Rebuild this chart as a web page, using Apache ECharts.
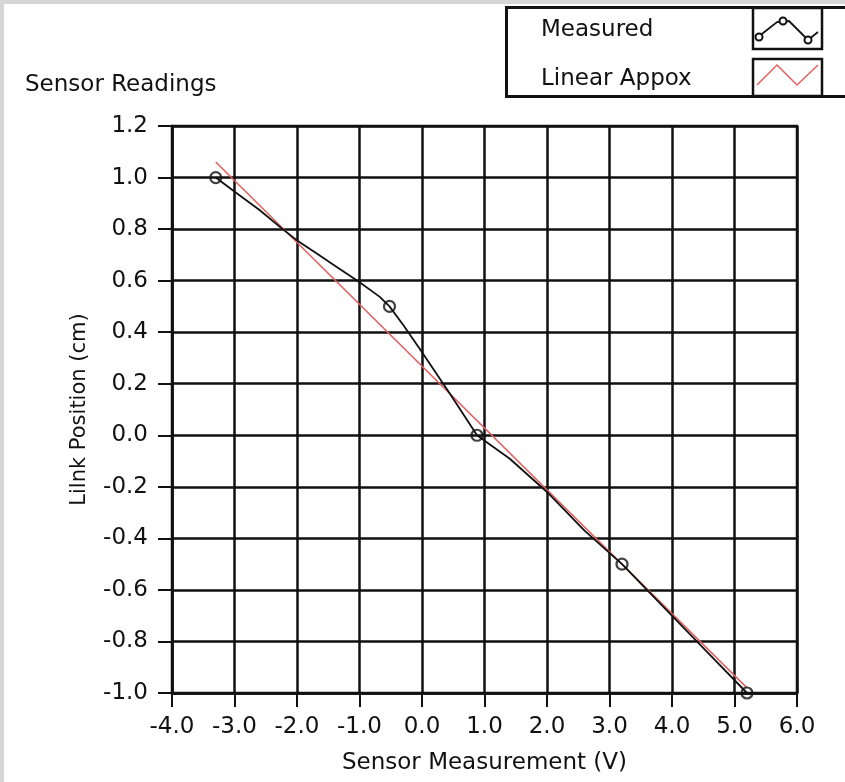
<!DOCTYPE html>
<html>
<head>
<meta charset="utf-8">
<script src="https://cdn.jsdelivr.net/npm/echarts@6/dist/echarts.min.js"></script>
<style>
html,body{margin:0;padding:0;background:#fff;}
#chart{width:845px;height:782px;}
</style>
</head>
<body>
<div id="chart"></div>
<script>
// Measured sensor points (x: sensor measurement V, y: link position cm)
var measuredMarkers = [[-3.3, 1.0], [-0.52, 0.5], [0.88, 0.0], [3.2, -0.5], [5.2, -1.0]];
// Measured trace
var measuredTrace = [
  [-3.3, 1.0], [-2.97, 0.94], [-2.6, 0.874], [-2.23, 0.80], [-2.01, 0.758],
  [-1.69, 0.706], [-1.37, 0.654], [-1.01, 0.596], [-0.68, 0.538], [-0.52, 0.5],
  [-0.30, 0.428], [-0.04, 0.337], [0.45, 0.16], [0.88, 0.0], [1.08, -0.035],
  [1.40, -0.09], [2.0, -0.22], [2.6, -0.37], [3.2, -0.5], [3.7, -0.625],
  [4.2, -0.75], [4.7, -0.875], [5.2, -1.0]
];
// Linear approximation endpoints
var linearApprox = [[-3.3, 1.06], [5.2, -0.98]];

var xTicks = {min: -4, max: 6, interval: 1};
var yTicks = {min: -1.0, max: 1.2, interval: 0.2};

var FONT = 'DejaVu Sans';
var TXT = '#111';
var chart = echarts.init(document.getElementById('chart'), null, {renderer: 'canvas'});

var option = {
  backgroundColor: '#ffffff',
  animation: false,
  title: {
    text: 'Sensor Readings', left: 20, top: 69,
    textStyle: {fontFamily: FONT, fontSize: 23, fontWeight: 'normal', color: TXT}
  },
  grid: {left: 172, right: 48, top: 126, bottom: 89, show: true, borderColor: '#111', borderWidth: 2.5, backgroundColor: '#fff'},
  xAxis: {
    type: 'value', min: xTicks.min, max: xTicks.max, interval: xTicks.interval,
    name: 'Sensor Measurement (V)', nameLocation: 'middle', nameGap: 59,
    nameTextStyle: {fontFamily: FONT, fontSize: 23, color: TXT},
    axisLine: {show: true, onZero: false, lineStyle: {color: '#111', width: 2.5}},
    axisTick: {show: true, length: 14, lineStyle: {color: '#111', width: 2}},
    axisLabel: {margin: 23, fontFamily: FONT, fontSize: 23, color: TXT,
      formatter: function (v) { return v.toFixed(1); }},
    splitLine: {show: true, lineStyle: {color: '#111', width: 2.5}}
  },
  yAxis: {
    type: 'value', min: yTicks.min, max: yTicks.max, interval: yTicks.interval,
    name: 'Lilnk Position (cm)', nameLocation: 'middle', nameGap: 82,
    nameTextStyle: {fontFamily: FONT, fontSize: 21, color: TXT},
    axisLine: {show: true, onZero: false, lineStyle: {color: '#111', width: 2.5}},
    axisTick: {show: true, length: 14, lineStyle: {color: '#111', width: 2}},
    axisLabel: {margin: 24, fontFamily: FONT, fontSize: 23, color: TXT,
      formatter: function (v) { return v.toFixed(1); }},
    splitLine: {show: true, lineStyle: {color: '#111', width: 2.5}}
  },
  series: [
    {
      name: 'Linear Appox', type: 'line', data: linearApprox, showSymbol: false, symbol: 'none',
      lineStyle: {color: '#e06060', width: 1.5}, z: 3
    },
    {
      name: 'Measured', type: 'line', data: measuredTrace, showSymbol: false, symbol: 'none',
      lineStyle: {color: '#111', width: 1.8}, z: 4
    },
    {
      name: 'Measured markers', type: 'scatter', data: measuredMarkers,
      symbol: 'circle', symbolSize: 11,
      itemStyle: {color: 'rgba(255,255,255,0)', borderColor: '#111', borderWidth: 2.2}, z: 5
    }
  ],
  graphic: [
    {type: 'rect', shape: {x: 0, y: 0, width: 845, height: 4}, style: {fill: '#d6d6d6'}, z: 10},
    {type: 'rect', shape: {x: 0, y: 0, width: 4, height: 782}, style: {fill: '#d6d6d6'}, z: 10},
    {type: 'rect', shape: {x: 506.5, y: 7.5, width: 360, height: 89}, style: {fill: '#fff', stroke: '#111', lineWidth: 3}, z: 10},
    {type: 'rect', shape: {x: 753, y: 8, width: 69, height: 41}, style: {fill: '#fff', stroke: '#111', lineWidth: 2.5}, z: 11},
    {type: 'rect', shape: {x: 753, y: 59, width: 69, height: 37}, style: {fill: '#fff', stroke: '#111', lineWidth: 2.5}, z: 11},
    {type: 'text', x: 541, y: 30, style: {text: 'Measured', fontFamily: FONT, fontSize: 23, fill: TXT, verticalAlign: 'middle'}, z: 11},
    {type: 'text', x: 541, y: 79, style: {text: 'Linear Appox', fontFamily: FONT, fontSize: 23, fill: TXT, verticalAlign: 'middle'}, z: 11},
    {type: 'polyline', shape: {points: [[758, 37], [777, 22], [789, 21], [808, 40], [818, 32]]}, style: {stroke: '#111', lineWidth: 1.8, fill: null}, z: 12},
    {type: 'circle', shape: {cx: 759, cy: 37, r: 3.5}, style: {fill: '#fff', stroke: '#111', lineWidth: 2}, z: 13},
    {type: 'circle', shape: {cx: 783, cy: 21, r: 3.5}, style: {fill: '#fff', stroke: '#111', lineWidth: 2}, z: 13},
    {type: 'circle', shape: {cx: 808, cy: 40, r: 3.5}, style: {fill: '#fff', stroke: '#111', lineWidth: 2}, z: 13},
    {type: 'polyline', shape: {points: [[757, 85], [777, 65], [797, 85], [818, 65]]}, style: {stroke: '#e06060', lineWidth: 1.5, fill: null}, z: 12}
  ]
};
chart.setOption(option);
</script>
</body>
</html>
